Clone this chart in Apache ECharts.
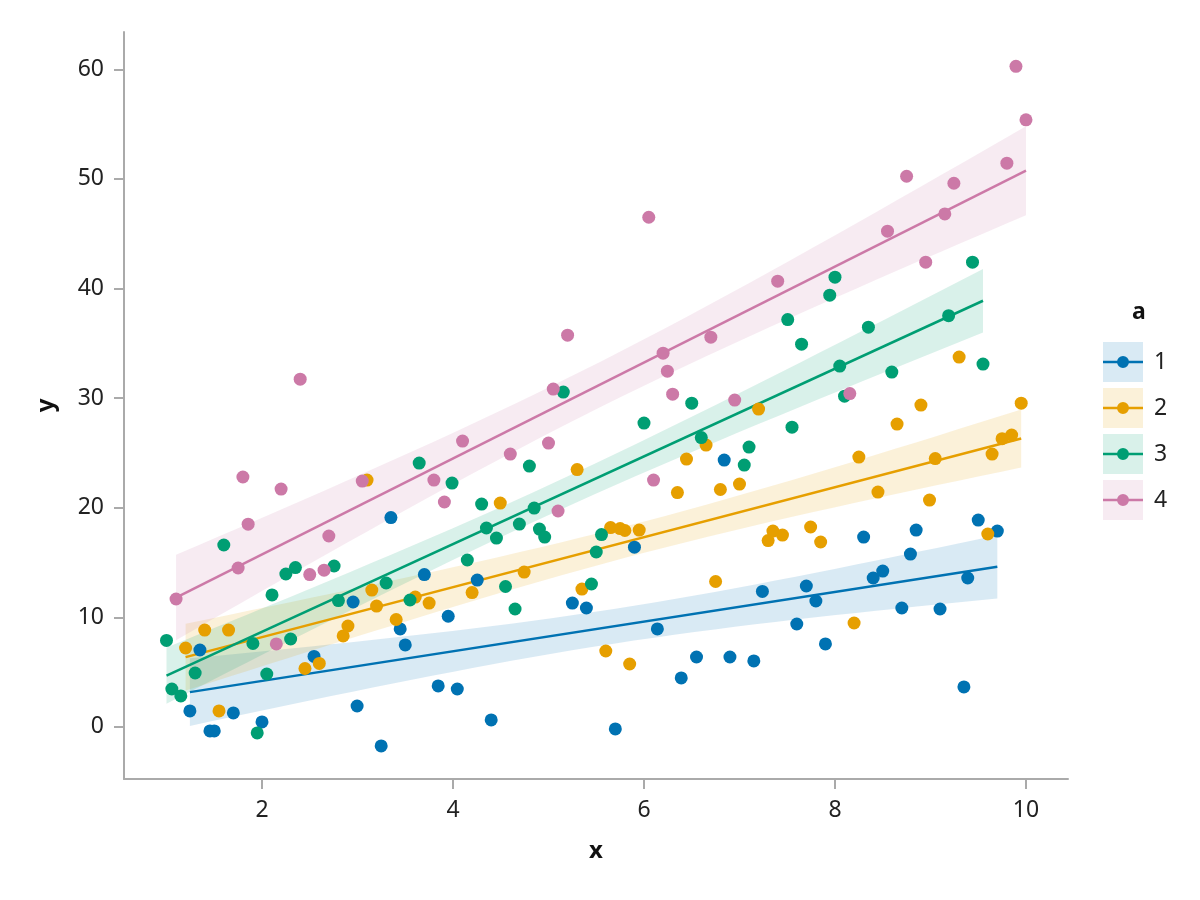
<!DOCTYPE html>
<html><head><meta charset="utf-8">
<script src="https://cdn.jsdelivr.net/npm/echarts@6/dist/echarts.min.js"></script>
<style>html,body{margin:0;padding:0;background:#fff}#c{width:1200px;height:900px}</style>
</head><body><div id="c"></div>
<script>
const groups = ['1', '2', '3', '4'];

const x1 = [1.245,1.35,1.455,1.50,1.70,2.00,2.545,2.954,2.996,3.248,3.35,3.447,3.50,3.70,3.845,3.95,4.045,4.254,4.40,5.25,5.397,5.70,5.90,6.14,6.39,6.55,6.84,6.90,7.15,7.24,7.60,7.70,7.80,7.90,8.30,8.40,8.50,8.70,8.79,8.85,9.10,9.35,9.39,9.50,9.70];
const y1 = [1.46,7.02,-0.36,-0.36,1.28,0.46,6.43,11.4,1.91,-1.73,19.1,8.94,7.48,13.9,3.74,10.1,3.46,13.4,0.64,11.3,10.85,-0.18,16.4,8.94,4.47,6.38,24.35,6.38,6.02,12.36,9.39,12.86,11.49,7.57,17.32,13.59,14.22,10.85,15.77,17.96,10.76,3.65,13.59,18.87,17.87];

const x2 = [1.20,1.40,1.55,1.65,2.45,2.60,2.85,2.90,3.10,3.15,3.20,3.405,3.605,3.75,4.20,4.495,4.745,5.30,5.35,5.60,5.65,5.75,5.80,5.85,5.95,6.35,6.445,6.65,6.75,6.80,7.00,7.20,7.30,7.35,7.45,7.745,7.85,8.20,8.25,8.45,8.65,8.90,8.99,9.05,9.30,9.60,9.645,9.75,9.85,9.95];
const y2 = [7.2,8.84,1.46,8.84,5.33,5.79,8.3,9.21,22.52,12.49,11.03,9.8,11.85,11.3,12.26,20.42,14.13,23.48,12.58,6.93,18.19,18.1,17.92,5.74,17.96,21.38,24.44,25.71,13.27,21.66,22.16,29.0,17.0,17.87,17.5,18.24,16.87,9.48,24.62,21.43,27.63,29.36,20.7,24.48,33.74,17.6,24.89,26.3,26.63,29.54];

const x3 = [1.00,1.056,1.15,1.30,1.60,1.905,1.95,2.05,2.105,2.25,2.30,2.35,2.755,2.80,3.30,3.55,3.646,3.99,4.15,4.30,4.35,4.455,4.55,4.65,4.695,4.80,4.85,4.905,4.96,5.155,5.45,5.50,5.555,6.00,6.50,6.60,7.05,7.10,7.505,7.55,7.65,7.945,8.00,8.05,8.10,8.35,8.595,9.19,9.44,9.55];
const y3 = [7.89,3.46,2.83,4.92,16.6,7.61,-0.55,4.83,12.04,13.95,8.02,14.54,14.68,11.53,13.13,11.58,24.07,22.25,15.23,20.33,18.15,17.23,12.81,10.76,18.51,23.8,19.97,18.05,17.32,30.55,13.04,15.96,17.55,27.72,29.54,26.4,23.89,25.53,37.16,27.35,34.92,39.39,41.03,32.92,30.18,36.47,32.37,37.52,42.4,33.1];

const x4 = [1.10,1.75,1.80,1.855,2.15,2.20,2.40,2.50,2.65,2.70,3.05,3.80,3.91,4.10,4.60,5.00,5.05,5.10,5.20,6.05,6.10,6.20,6.245,6.30,6.70,6.95,7.40,8.155,8.55,8.75,8.95,9.15,9.245,9.80,9.895,10.0];
const y4 = [11.67,14.5,22.8,18.5,7.57,21.7,31.73,13.9,14.3,17.42,22.43,22.52,20.52,26.08,24.89,25.9,30.82,19.7,35.74,46.5,22.52,34.1,32.46,30.36,35.56,29.82,40.67,30.41,45.23,50.24,42.4,46.8,49.6,51.43,60.27,55.39];

const xTicks = [2, 4, 6, 8, 10];
const yTicks = [0, 10, 20, 30, 40, 50, 60];

const xs = [x1, x2, x3, x4];
const ys = [y1, y2, y3, y4];
const colors = ['#0072B2', '#E69F00', '#009E73', '#CC79A7'];
const bandFill = ['rgba(0,114,178,0.15)', 'rgba(230,159,0,0.15)', 'rgba(0,158,115,0.15)', 'rgba(204,121,167,0.15)'];
const FONT = 'Noto Sans';

function fit(X, Y) {
  const n = X.length;
  let xm = 0, ym = 0;
  for (let i = 0; i < n; i++) { xm += X[i]; ym += Y[i]; }
  xm /= n; ym /= n;
  let sxx = 0, sxy = 0;
  for (let i = 0; i < n; i++) { sxx += (X[i] - xm) ** 2; sxy += (X[i] - xm) * (Y[i] - ym); }
  const b = sxy / sxx, a = ym - b * xm;
  let sse = 0;
  for (let i = 0; i < n; i++) sse += (Y[i] - a - b * X[i]) ** 2;
  const s = Math.sqrt(sse / (n - 2));
  const t = 1.96 + 2.4 / (n - 2);
  const xmin = Math.min(...X), xmax = Math.max(...X);
  const N = 40, upper = [], lower = [];
  for (let i = 0; i <= N; i++) {
    const x = xmin + (xmax - xmin) * i / N;
    const yh = a + b * x;
    const h = t * s * Math.sqrt(1 / n + (x - xm) ** 2 / sxx);
    upper.push([x, yh + h]);
    lower.push([x, yh - h]);
  }
  return { line: [[xmin, a + b * xmin], [xmax, a + b * xmax]], poly: upper.concat(lower.reverse()) };
}

const fits = xs.map((X, i) => fit(X, ys[i]));

const series = [];
groups.forEach((g, i) => {
  series.push({
    type: 'scatter', name: g, z: 4,
    data: xs[i].map((x, k) => [x, ys[i][k]]),
    symbol: 'circle', symbolSize: 13,
    itemStyle: { color: colors[i], opacity: 1 },
    silent: true
  });
});
groups.forEach((g, i) => {
  series.push({
    type: 'line', name: g, z: 3,
    data: fits[i].line, showSymbol: false, symbol: 'none',
    lineStyle: { color: colors[i], width: 2.5 },
    itemStyle: { color: colors[i] },
    silent: true
  });
});
groups.forEach((g, i) => {
  const poly = fits[i].poly;
  series.push({
    type: 'custom', name: 'band' + g, z: 1,
    data: poly, encode: { x: 0, y: 1 },
    itemStyle: { color: bandFill[i] },
    renderItem: function (params, api) {
      if (params.dataIndex !== 0) return null;
      return {
        type: 'polygon',
        shape: { points: poly.map(p => api.coord(p)) },
        style: { fill: bandFill[i] },
        silent: true
      };
    },
    silent: true
  });
});

const icon = 'path://M0,0L0.01,0L0.01,0.01Z M0,40L0.01,40L0.01,39.99Z M0,18.8L40,18.8L40,21.2L0,21.2Z M26,20A6,6,0,1,1,14,20A6,6,0,1,1,26,20Z';

const option = {
  animation: false,
  backgroundColor: '#fff',
  textStyle: { fontFamily: FONT },
  title: {
    text: 'a', left: 1127, top: 296,
    textStyle: { fontFamily: FONT, fontWeight: 'bold', fontSize: 23, color: '#111' }
  },
  legend: [
    {
      orient: 'vertical', left: 1103, top: 342, padding: 0, z: 3,
      itemWidth: 40, itemHeight: 40, itemGap: 6, selectedMode: false,
      data: groups.map((g, i) => ({ name: 'band' + g, icon: 'rect', itemStyle: { color: bandFill[i], borderWidth: 0 } })),
      formatter: function () { return ''; },
      textStyle: { fontSize: 1 }
    },
    {
      orient: 'vertical', left: 1103, top: 342, padding: 0, z: 4,
      itemWidth: 40, itemHeight: 40, itemGap: 6, selectedMode: false,
      data: groups.map((g, i) => ({ name: g, icon: icon, itemStyle: { color: colors[i], borderWidth: 0 } })),
      textStyle: { fontFamily: FONT, fontSize: 23, color: '#222', padding: [0, 0, 0, 6] }
    }
  ],
  grid: { left: 124, right: 132, top: 32, bottom: 121, containLabel: false },
  xAxis: {
    type: 'value', min: 0.555, max: 10.44,
    name: 'x', nameLocation: 'middle', nameGap: 60,
    nameTextStyle: { fontFamily: FONT, fontWeight: 'bold', fontSize: 24, color: '#111' },
    axisLine: { show: true, onZero: false, lineStyle: { color: '#aaaaaa', width: 2 } },
    axisTick: { show: true, inside: false, length: 10, customValues: xTicks, lineStyle: { color: '#aaaaaa', width: 2 } },
    axisLabel: { customValues: xTicks, fontFamily: FONT, fontSize: 23, color: '#222', margin: 20 },
    splitLine: { show: false }
  },
  yAxis: {
    type: 'value', min: -4.75, max: 63.4,
    name: 'y', nameLocation: 'middle', nameGap: 66, nameRotate: 90,
    nameTextStyle: { fontFamily: FONT, fontWeight: 'bold', fontSize: 24, color: '#111' },
    axisLine: { show: true, onZero: false, lineStyle: { color: '#aaaaaa', width: 2 } },
    axisTick: { show: true, inside: false, length: 10, customValues: yTicks, lineStyle: { color: '#aaaaaa', width: 2 } },
    axisLabel: { customValues: yTicks, fontFamily: FONT, fontSize: 23, color: '#222', margin: 20 },
    splitLine: { show: false }
  },
  series: series
};

const chart = echarts.init(document.getElementById('c'), null, { renderer: 'canvas' });
chart.setOption(option);
</script>
</body></html>
